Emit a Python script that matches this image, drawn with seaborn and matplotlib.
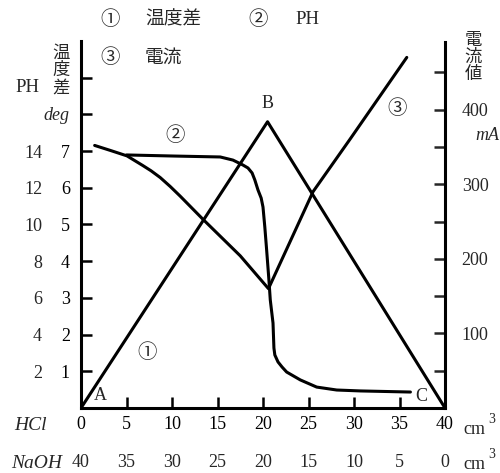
import matplotlib
matplotlib.use("Agg")
import matplotlib.pyplot as plt
import seaborn as sns

# --- values ---
# (1) temperature difference, deg, vs HCl added (cm3)
temp_x = [0, 20.5, 40]
temp_deg = [0, 7.8, 0]

# (2) pH
ph_x = [5.0, 10.3, 15.3, 16.7, 17.8, 18.35, 18.8, 19.1, 19.45, 19.8, 20.0, 20.2,
        20.4, 20.65, 20.8, 21.1, 21.2, 21.3, 21.65, 22.1, 22.6, 24.1, 25.9,
        28.1, 30.7, 36.2]
ph_val = [13.79, 13.73, 13.68, 13.51, 13.24, 13.08, 12.81, 12.43, 11.88, 11.44,
          10.95, 9.86, 8.61, 6.98, 5.89, 4.63, 3.27, 2.89, 2.51, 2.23, 1.96,
          1.53, 1.14, 0.98, 0.93, 0.87]

# (3) current, mA
cur_x = [1.5, 3.3, 5.05, 6.8, 7.7, 8.7, 9.8, 10.9, 13.4, 17.5, 20.6, 22.6, 25.5, 29.6, 35.8]
cur_ma = [352, 345, 338, 325, 318, 309, 297, 284, 253, 204, 160, 213, 290, 361, 470]

# tick labels
hcl_ticks = [0, 5, 10, 15, 20, 25, 30, 35, 40]
naoh_ticks = [40, 35, 30, 25, 20, 15, 10, 5, 0]
deg_ticks = [1, 2, 3, 4, 5, 6, 7, 8, 9]
deg_labels = ["1", "2", "3", "4", "5", "6", "7", "", ""]
ph_ticks = [2, 4, 6, 8, 10, 12, 14]
ma_ticks = [50, 100, 150, 200, 250, 300, 350, 400, 450]
ma_labels = ["", "100", "", "200", "", "300", "", "400", ""]

sns.set_style("white")
plt.rcParams["font.family"] = ["Liberation Serif", "Noto Sans CJK JP"]

W, H = 500, 473
fig = plt.figure(figsize=(W / 100, H / 100), dpi=100)
ax = fig.add_axes([81 / W, 1 - 408 / H, (445 - 81) / W, (408 - 41) / H])
ax_ph = ax.twinx()
ax_ma = ax.twinx()
ax_na = ax.twiny()

LW = 2.2
sns.lineplot(x=temp_x, y=temp_deg, ax=ax, color="black", lw=LW, estimator=None)
sns.lineplot(x=ph_x, y=ph_val, ax=ax_ph, color="black", lw=LW, estimator=None)
sns.lineplot(x=cur_x, y=cur_ma, ax=ax_ma, color="black", lw=LW, estimator=None)

# main axes: deg on the left, HCl on the bottom
ax.set_xlim(0, 40)
ax.set_ylim(0, 10)
for s in ["top", "right"]:
    ax.spines[s].set_visible(False)
for s in ["left", "bottom"]:
    ax.spines[s].set_linewidth(LW)
    ax.spines[s].set_color("black")
ax.set_xticks(hcl_ticks)
ax.set_xticklabels([str(v) for v in hcl_ticks])
ax.set_yticks(deg_ticks)
ax.set_yticklabels(deg_labels)
ax.tick_params(axis="both", direction="in", length=8, width=1.8, labelsize=13, colors="black")
ax.tick_params(axis="y", pad=8)
ax.tick_params(axis="x", pad=6)

# pH scale (left, outer column)
ax_ph.set_ylim(0, 20)
ax_ph.set_xlim(0, 40)
for s in ax_ph.spines.values():
    s.set_visible(False)
ax_ph.yaxis.set_ticks_position("left")
ax_ph.set_yticks(ph_ticks)
ax_ph.set_yticklabels([str(v) for v in ph_ticks])
ax_ph.tick_params(axis="y", length=0, pad=28, labelsize=13)

# current scale (right)
ax_ma.set_ylim(0, 492)
ax_ma.set_xlim(0, 40)
for s in ["top", "left", "bottom"]:
    ax_ma.spines[s].set_visible(False)
ax_ma.spines["right"].set_linewidth(LW)
ax_ma.spines["right"].set_color("black")
ax_ma.spines["right"].set_bounds(0, 490)
ax_ma.set_yticks(ma_ticks)
ax_ma.set_yticklabels(ma_labels)
ax_ma.tick_params(axis="y", direction="in", length=8, width=1.8, pad=12, labelsize=13)

# NaOH scale (second row under the axis)
ax_na.set_xlim(40, 0)
for s in ax_na.spines.values():
    s.set_visible(False)
ax_na.xaxis.set_ticks_position("bottom")
ax_na.set_xticks(naoh_ticks)
ax_na.set_xticklabels([str(v) for v in naoh_ticks])
ax_na.tick_params(axis="x", length=0, pad=33, labelsize=13)

for a in (ax, ax_ph, ax_ma, ax_na):
    a.set_xlabel("")
    a.set_ylabel("")

# point / curve labels inside the plot
ax.text(2.1, 0.35, "A", fontsize=13, ha="center", va="center")
ax.text(20.55, 8.31, "B", fontsize=13, ha="center", va="center")
ax.text(37.4, 0.3, "C", fontsize=13, ha="center", va="center")
ax.text(7.25, 1.5, "①", fontsize=14, ha="center", va="center")
ax.text(10.3, 7.41, "②", fontsize=14, ha="center", va="center")
ax.text(34.7, 8.17, "③", fontsize=14, ha="center", va="center")


def ftext(px, py, s, **kw):
    kw.setdefault("ha", "center")
    kw.setdefault("va", "center")
    fig.text(px / W, 1 - py / H, s, **kw)


# legend lines on top
ftext(110, 20, "①", fontsize=14)
ftext(173, 20, "温度差", fontsize=13.5)
ftext(258, 20, "②", fontsize=14)
ftext(307, 20, "PH", fontsize=13.5)
ftext(110, 58, "③", fontsize=14)
ftext(163, 58, "電流", fontsize=13.5)

# axis titles
ftext(27, 88, "PH", fontsize=13.5)
ftext(61, 71, "温\n度\n差", fontsize=12.5, linespacing=1.1)
ftext(56, 116, "deg", fontsize=13, style="italic")
ftext(473, 58, "電\n流\n値", fontsize=12.5, linespacing=1.1)
ftext(487, 136, "mA", fontsize=13, style="italic")
ftext(30, 425, "HCl", fontsize=14, style="italic")
ftext(37, 463, "NaOH", fontsize=14, style="italic")
ftext(474, 429, "cm", fontsize=13)
ftext(492, 419, "3", fontsize=10)
ftext(474, 464, "cm", fontsize=13)
ftext(492, 454, "3", fontsize=10)

fig.savefig("out.png", dpi=100)
